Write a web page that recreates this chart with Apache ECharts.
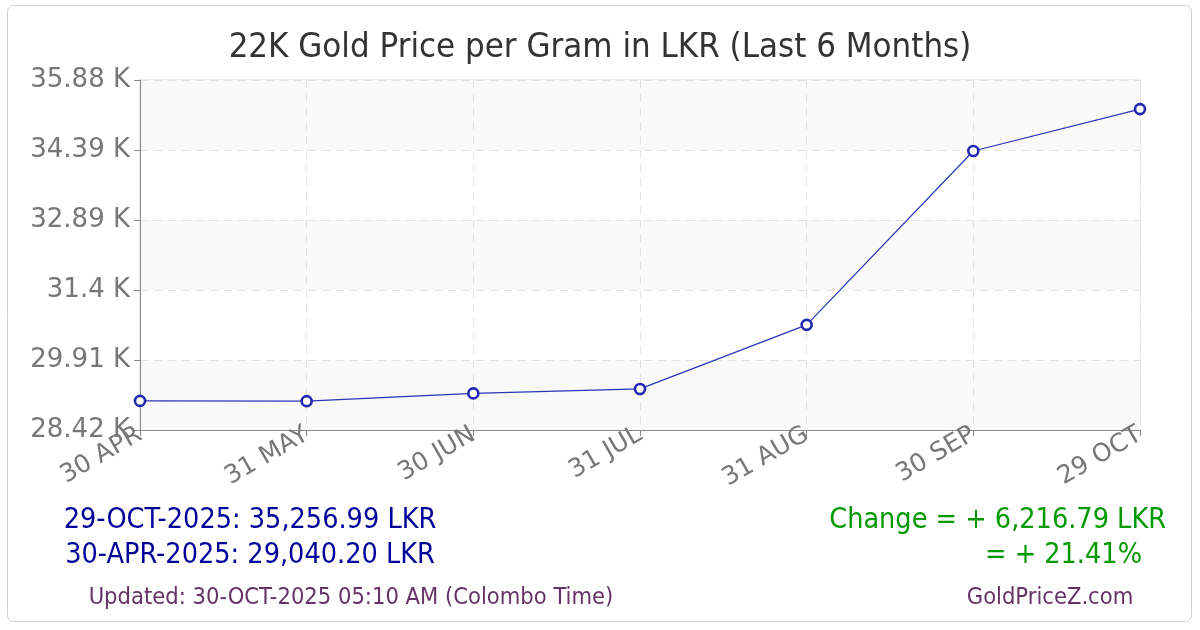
<!DOCTYPE html>
<html>
<head>
<meta charset="utf-8">
<title>22K Gold Price per Gram in LKR</title>
<script src="https://cdn.jsdelivr.net/npm/echarts@6/dist/echarts.min.js"></script>
<style>
  html, body { margin: 0; padding: 0; background: #fff; }
  #chart { width: 1200px; height: 630px; }
</style>
</head>
<body>
<div id="chart"></div>
<script type="text/javascript">
// data
var days = ['30 APR', '31 MAY', '30 JUN', '31 JUL', '31 AUG', '30 SEP', '29 OCT'];
var prices = [29040.20, 29035, 29200, 29295, 30660, 34365, 35256.99];
var axisMin = 28420;
var axisStep = 1491.5;
var axisMax = 35877.5;

var summaryLeft = ['29-OCT-2025: 35,256.99 LKR', '30-APR-2025: 29,040.20 LKR'];
var summaryRight = ['Change = + 6,216.79 LKR', '= + 21.41%'];
var updatedText = 'Updated: 30-OCT-2025 05:10 AM (Colombo Time)';
var siteText = 'GoldPriceZ.com';

var chart = echarts.init(document.getElementById('chart'));

var cond = '"DejaVu Sans Condensed", "DejaVu Sans", sans-serif';

// small helper for the footer texts
function footText(x, y, txt, size, color, align) {
    return {
        type: 'text',
        x: x,
        y: y,
        silent: true,
        style: {
            text: txt,
            font: size + 'px ' + cond,
            fill: color,
            align: align,
            verticalAlign: 'middle'
        }
    };
}

option = {
    backgroundColor: '#fff',
    animation: false,
    title: {
        text: '22K Gold Price per Gram in LKR (Last 6 Months)',
        left: 'center',
        top: 26,
        textStyle: {
            fontFamily: cond,
            fontSize: 34.5,
            fontWeight: 'normal',
            color: '#333'
        }
    },
    grid: {
        left: 140,
        right: 60,
        top: 80,
        bottom: 200,
        show: true,
        borderColor: '#dddddd',
        borderWidth: 1
    },
    xAxis: {
        type: 'category',
        boundaryGap: false,
        data: days,
        axisLine: { lineStyle: { color: '#888' } },
        axisTick: { show: true, length: 6, alignWithLabel: true, lineStyle: { color: '#888' } },
        axisLabel: {
            rotate: 30,
            margin: 3,
            fontFamily: 'DejaVu Sans',
            fontSize: 25,
            color: '#777'
        },
        splitLine: { show: true, lineStyle: { color: '#e2e2e2', type: [8, 6] } }
    },
    yAxis: {
        type: 'value',
        min: axisMin,
        max: axisMax,
        interval: axisStep,
        axisLine: { show: true, lineStyle: { color: '#888' } },
        axisTick: { show: true, length: 6, lineStyle: { color: '#888' } },
        axisLabel: {
            margin: 10,
            fontFamily: 'DejaVu Sans',
            fontSize: 26,
            color: '#777',
            formatter: function (v) {
                return parseFloat((v / 1000).toFixed(2)) + ' K';
            }
        },
        splitLine: { show: true, lineStyle: { color: '#e2e2e2', type: [8, 6] } },
        splitArea: { show: true, areaStyle: { color: ['#f9f9f9', '#ffffff'] } }
    },
    series: [
        {
            name: '22K',
            type: 'line',
            data: prices,
            symbol: 'circle',
            symbolSize: 10,
            lineStyle: { color: '#2a35b8', width: 1.2 },
            itemStyle: { color: '#ffffff', borderColor: '#2229b0', borderWidth: 2.6 }
        }
    ],
    graphic: [
        {
            type: 'rect',
            shape: { x: 7.5, y: 5.5, width: 1184, height: 616, r: 6 },
            style: { fill: null, stroke: '#d0d0d0', lineWidth: 1 },
            silent: true
        },
        footText(250, 521, summaryLeft[0], 28.5, '#000099', 'center'),
        footText(250, 556, summaryLeft[1], 28.5, '#000099', 'center'),
        footText(1166, 521, summaryRight[0], 28.5, '#009900', 'right'),
        footText(1142, 556, summaryRight[1], 28.5, '#009900', 'right'),
        footText(351, 598, updatedText, 23.5, '#663366', 'center'),
        footText(1050, 598, siteText, 23.5, '#663366', 'center')
    ]
};

chart.setOption(option);
</script>
</body>
</html>
